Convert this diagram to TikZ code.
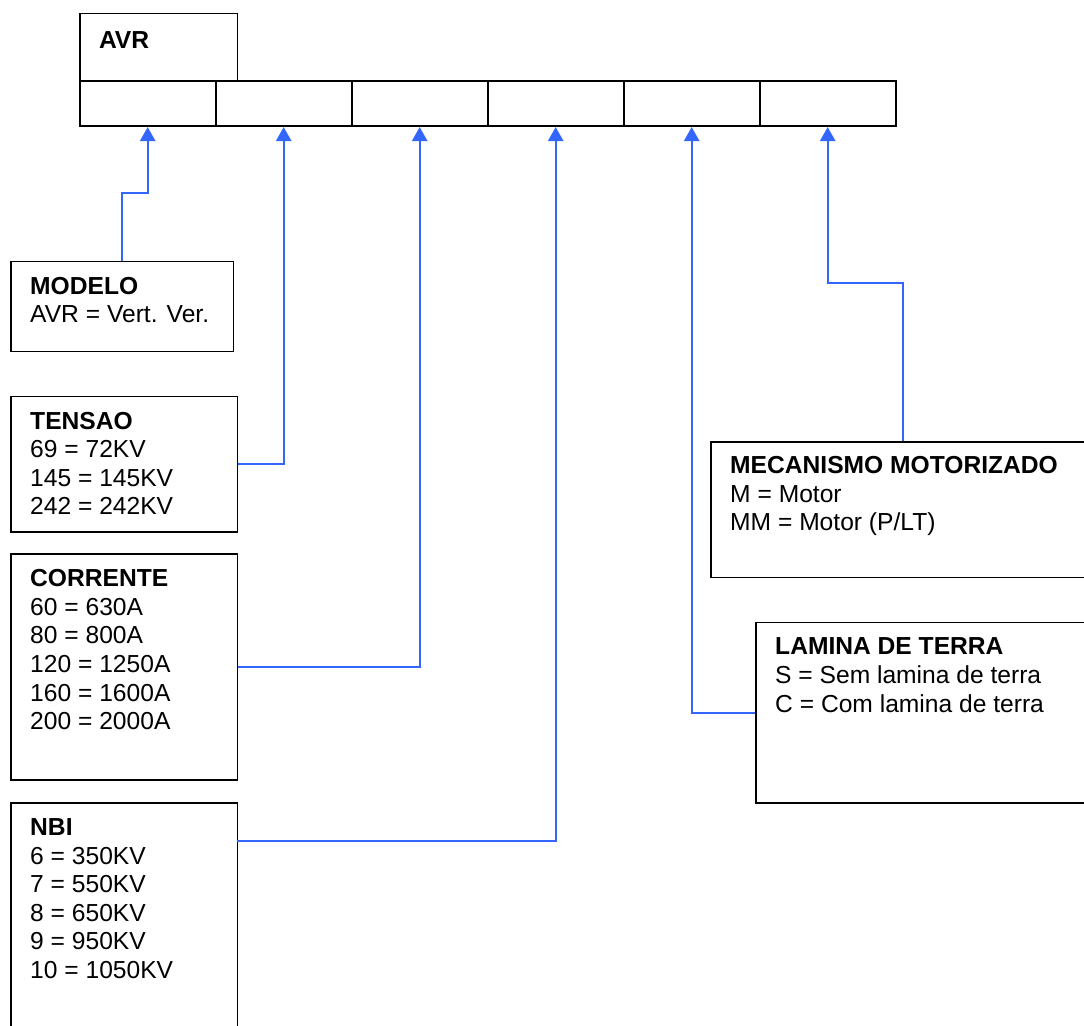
\documentclass[tikz,border=0pt]{standalone}
\usepackage{fontspec}
\setmainfont{Liberation Sans}
\usetikzlibrary{arrows.meta}
\definecolor{azul}{RGB}{51,102,255}

\begin{document}
\begin{tikzpicture}[x=0.03cm, y=-0.03cm,
    caixa/.style={draw=black, line width=1.5pt, rectangle, anchor=north west, inner sep=0pt},
    texto/.style={anchor=north west, inner sep=0pt, align=left, font=\fontsize{21}{24.4}\selectfont},
    ligacao/.style={draw=azul, line width=1.4pt, -{Triangle[width=0.46cm,length=0.42cm]}}]
    \useasboundingbox (0,0) rectangle (1084,1025);
    \clip (0,0) rectangle (1084,1025);

    % Codigo
    \node[caixa, minimum width=4.734cm, minimum height=2.019cm] (avr) at (78.8,12.7) {};
    \node[texto] (tavr) at ([shift={(20,19)}]avr.north west) {\textbf{AVR}};
    \foreach \i in {1,...,6}
        \node[caixa, minimum width=4.08cm, minimum height=1.359cm] (c\i) at ({78.8+136*(\i-1)},80) {};

    % Caixas da esquerda
    \node[caixa, minimum width=6.681cm, minimum height=2.7cm] (modelo) at (10,260.7) {};
    \node[texto] (tmodelo) at ([shift={(20,16)}]modelo.north west) {\textbf{MODELO}\\AVR = Vert. Ver.};
    \node[caixa, minimum width=6.801cm, minimum height=4.059cm] (tensao) at (10,395.7) {};
    \node[texto] (ttensao) at ([shift={(20,16)}]tensao.north west) {\textbf{TENSAO}\\69 = 72KV\\145 = 145KV\\242 = 242KV};
    \node[caixa, minimum width=6.801cm, minimum height=6.78cm] (corrente) at (10,553.3) {};
    \node[texto] (tcorrente) at ([shift={(20,16)}]corrente.north west) {\textbf{CORRENTE}\\60 = 630A\\80 = 800A\\120 = 1250A\\160 = 1600A\\200 = 2000A};
    \node[caixa, minimum width=6.801cm, minimum height=7.8cm] (nbi) at (10,802.3) {};
    \node[texto] (tnbi) at ([shift={(20,16)}]nbi.north west) {\textbf{NBI}\\6 = 350KV\\7 = 550KV\\8 = 650KV\\9 = 950KV\\10 = 1050KV};

    % Caixas da direita
    \node[caixa, minimum width=11.52cm, minimum height=4.071cm] (mecanismo) at (710,441) {};
    \node[texto] (tmecanismo) at ([shift={(20,15)}]mecanismo.north west) {\textbf{MECANISMO MOTORIZADO}\\M = Motor\\MM = Motor (P/LT)};
    \node[caixa, minimum width=10.8cm, minimum height=5.418cm] (lamina) at (755,621.7) {};
    \node[texto] (tlamina) at ([shift={(20,16)}]lamina.north west) {\textbf{LAMINA DE TERRA}\\S = Sem lamina de terra\\C = Com lamina de terra};

    % Ligacoes
    \coordinate (nbiporta) at (236.7,841);
    \draw[ligacao] (modelo.north) -- ++(0,-67.4) -| (c1.south);
    \draw[ligacao] (tensao.east) -| (c2.south);
    \draw[ligacao] (corrente.east) -| (c3.south);
    \draw[ligacao] (nbiporta) -| (c4.south);
    \draw[ligacao] (lamina.west) -| (c5.south);
    \draw[ligacao] (mecanismo.north) -- ++(0,-157.7) -| (c6.south);
\end{tikzpicture}
\end{document}
